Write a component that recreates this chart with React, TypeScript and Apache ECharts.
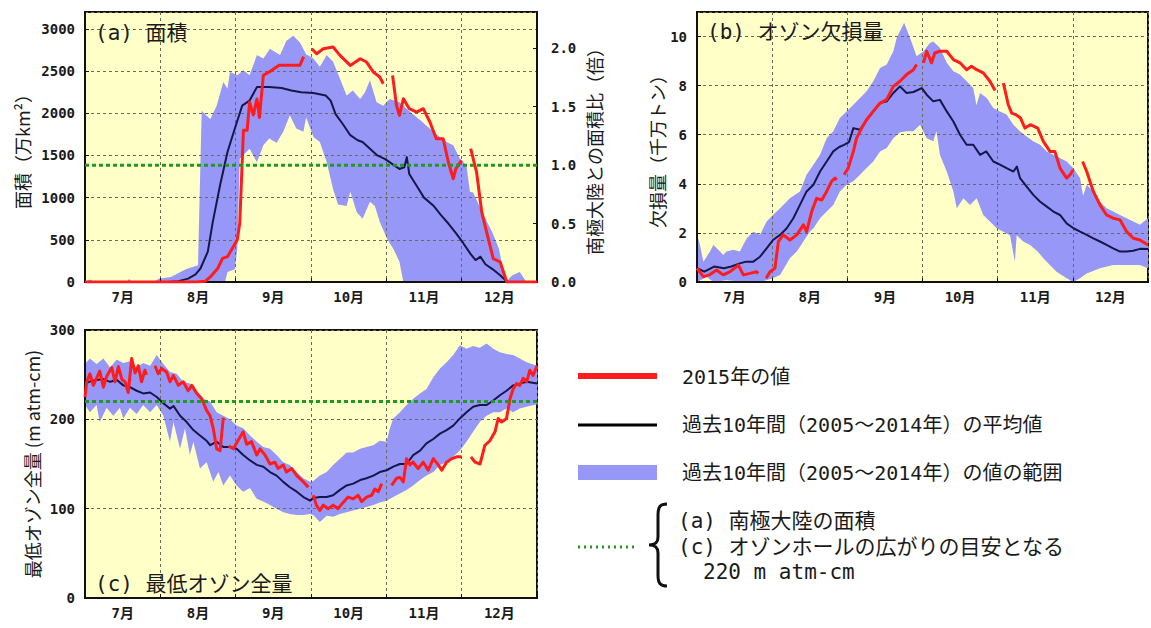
import React, { useEffect, useRef } from 'react';
import * as echarts from 'echarts';

// ---------- categories / ticks ----------
const MONTHS = ['7月', '8月', '9月', '10月', '11月', '12月'];
const DAY_MAX = 184; // Jul 1 .. Dec 31
const AREA_MAX = 3200;
const ANTARCTIC_AREA = 1385; // 万km², ratio 1.0
const AREA_TICKS = 500;
const RATIO_TICKS = 0.5;
const DEPL_MAX = 11;
const DEPL_TICKS = 2;
const OZ_MAX = 300;
const OZ_TICKS = 100;
const OZ_THRESHOLD = 220;

// ---------- (a) area ----------
const A_MEAN_DAYS = [0, 30, 34, 38, 42, 45, 47, 50, 52, 55, 58, 61, 64, 67, 70, 75, 80, 84, 88, 93, 98, 100, 102, 105, 108, 111, 113, 116, 119, 122, 124, 126, 128, 130, 131, 132, 135, 138, 142, 145, 148, 151, 154, 157, 159, 161, 163, 166, 169, 172, 184];
const A_MEAN = [0, 0, 0, 10, 40, 90, 160, 360, 710, 1150, 1540, 1820, 2090, 2150, 2310, 2310, 2300, 2270, 2250, 2240, 2210, 2150, 1990, 1870, 1740, 1680, 1660, 1580, 1500, 1460, 1420, 1380, 1340, 1360, 1480, 1280, 1140, 1000, 900, 790, 690, 580, 460, 330, 260, 300, 210, 150, 80, 0, 0];
const A_RED_DAYS = [0, 45, 49, 51, 54, 56, 58, 60, 62, 63, 64.5, 66, 67, 68.5, 70, 71, 72.6, 75, 79, 84, 87.5, 89, 90.5, 92.3, 94.3, 97, 101, 103.8, 108, 112, 114.6, 117.4, 120, 121.4, 123, 125.2, 126.8, 128, 129.6, 132, 135, 137.7, 140.4, 143, 145.8, 147.9, 149.9, 151, 153.3, 155, 157, 159.4, 161.5, 163.5, 166.2, 169, 171.7, 184];
const A_RED = [0, 0, 10, 60, 160, 280, 300, 400, 500, 700, 1800, 1800, 2130, 1980, 2170, 1950, 2450, 2490, 2570, 2570, 2570, 2670, null, 2765, 2706, 2765, 2785, 2686, 2567, 2646, 2607, 2488, 2429, 2350, null, 2449, 2093, 1975, 2172, 2054, 2014, 2054, 1896, 1698, 1698, 1422, 1224, 1343, 1442, null, 1580, 1303, 830, 592, 276, 237, 0, 0];
const A_UP_DAYS = [0, 2, 4, 17, 18, 19, 28, 30, 35, 41, 46, 47.5, 51, 53.6, 56.3, 58, 59, 62, 64.4, 67, 70, 72.6, 75.3, 79.4, 82, 84.8, 87.5, 90, 93, 95.6, 98.4, 101, 103.8, 106.5, 109, 112, 114, 116, 118.7, 121.4, 124, 128, 131, 136.4, 141.8, 144.5, 147.2, 149.9, 152.6, 155.3, 156.7, 158, 160.4, 163, 165.8, 168.5, 171.2, 174, 177, 179.7, 184];
const A_UP = [0, 30, 0, 0, 40, 0, 0, 40, 60, 150, 200, 2030, 1930, 2090, 2370, 2290, 2490, 2450, 2510, 2450, 2690, 2650, 2765, 2690, 2860, 2920, 2840, 2700, 2650, 2550, 2690, 2610, 2410, 2210, 2270, 2170, 2250, 2390, 2130, 2090, 2170, 2130, 2050, 1920, 1780, 1720, 1660, 1620, 1460, 1380, 1070, 1060, 910, 750, 590, 395, 0, 80, 120, 0, 0];
const A_LO_DAYS = [0, 57, 58, 61, 62, 63, 67, 70, 72.6, 75, 78, 80.7, 83.4, 86, 88.9, 90, 92, 93, 95.6, 98.4, 101, 103, 106.5, 108, 110.6, 113, 116, 118, 120, 123, 125.5, 128, 129.6, 184];
const A_LO = [0, 0, 120, 150, 400, 1460, 1580, 1420, 1620, 1700, 1650, 1780, 1975, 1820, 1780, 1950, 1800, 1720, 1660, 1420, 1100, 920, 900, 1070, 830, 750, 950, 900, 710, 510, 395, 240, 0, 0];

// ---------- (b) ozone mass deficit ----------
const B_MEAN_DAYS = [0, 3, 7, 11, 14, 17.5, 20, 23, 25.7, 28.4, 31, 33.9, 36.6, 39.3, 42, 44.7, 47.5, 50.2, 52.9, 55.6, 58, 60, 62, 63.8, 66.5, 69.2, 71.9, 74.7, 77.4, 80.1, 82.8, 85.5, 88.3, 91.7, 93.7, 96.4, 99.1, 101.9, 104.6, 107.3, 110, 112.7, 115.5, 118, 120.9, 123.6, 126.3, 129.1, 130.5, 131.8, 134.5, 137.2, 139.9, 142.7, 145.4, 148.1, 150.8, 153.6, 156.3, 159, 161.7, 164.4, 167.1, 169.8, 172.6, 175.3, 178, 180.7, 184];
const B_MEAN = [0.56, 0.42, 0.63, 0.56, 0.63, 0.76, 0.83, 0.83, 1.03, 1.37, 1.71, 1.92, 2.19, 2.6, 3.14, 3.69, 3.96, 4.5, 4.91, 5.32, 5.5, 5.59, 5.7, 6.27, 6.2, 6.61, 6.95, 7.29, 7.36, 7.7, 7.97, 7.7, 7.74, 7.9, 7.63, 7.36, 7.42, 6.95, 6.54, 6.0, 5.59, 5.59, 5.18, 5.32, 4.91, 4.78, 4.64, 4.5, 4.7, 4.23, 3.89, 3.55, 3.28, 3.07, 2.87, 2.73, 2.39, 2.19, 2.05, 1.92, 1.78, 1.65, 1.51, 1.37, 1.24, 1.24, 1.27, 1.35, 1.34];
const B_RED_DAYS = [0, 2.6, 5, 8, 10.7, 13.5, 16.9, 18.9, 21.6, 24.3, 25, 26.5, 28.2, 29.8, 31.8, 33.2, 35.2, 37.9, 40.7, 43.4, 44.7, 46.8, 48.8, 50.9, 52.9, 54.9, 56.3, 57, 58.5, 60, 61.7, 63.8, 65.1, 67.2, 69.2, 71.9, 74.7, 77.4, 80.1, 82.8, 85.5, 88.3, 89.6, 91, 92.4, 93.7, 95.7, 97, 99.1, 101.9, 104.6, 107.3, 110, 112, 114.1, 116.8, 119.5, 121.6, 123, 125, 127, 128.4, 130, 132, 133.8, 136, 139, 141.3, 144, 146, 148.1, 150.8, 152.2, 153.5, 155.5, 157.3, 159, 161.7, 164.4, 167.1, 169.8, 172.6, 175.3, 178, 180.7, 184];
const B_RED = [0.56, 0.22, 0.29, 0.49, 0.29, 0.42, 0.69, 0.29, 0.35, 0.42, 0.35, null, 0.15, 0.42, 0.56, 1.65, 1.92, 1.71, 1.92, 2.33, 2.05, 2.87, 3.41, 3.34, 3.69, 4.1, 4.23, 4.16, null, 4.37, 4.64, 5.32, 5.86, 6.27, 6.61, 6.95, 7.29, 7.43, 7.97, 8.18, 8.45, 8.65, 8.86, null, 8.93, 9.4, 8.93, 9.33, 9.4, 9.4, 9.06, 8.93, 8.65, 8.79, 8.65, 8.52, 8.18, 7.8, null, 8.1, 7.22, 6.88, 6.82, 6.68, 6.27, 6.41, 6.27, 5.73, 5.32, 5.32, 4.64, 4.23, 4.37, 4.57, null, 4.91, 4.5, 3.69, 3.14, 2.73, 2.6, 2.53, 2.05, 1.78, 1.71, 1.51];
const B_UP_DAYS = [0, 1.2, 2.6, 5.3, 6.7, 9.4, 10.7, 12, 14.8, 17.5, 20.3, 23, 25.7, 28.4, 31, 33.9, 37.9, 42, 44.7, 47.5, 50.2, 52.9, 55.6, 58.3, 61, 63.8, 66.5, 69.2, 71.9, 74.7, 77.4, 80.1, 81.5, 84.5, 86.9, 89.6, 92.4, 95, 96.4, 99.1, 101.9, 104.6, 107.3, 110, 112.7, 114, 115.5, 118.2, 120.9, 123.6, 126.3, 129.1, 131.8, 134.5, 137.2, 140, 142.7, 145.4, 148.1, 150.8, 153.5, 156.3, 157.5, 159, 161.7, 164.4, 167.1, 169.8, 172.6, 175.3, 178, 180.7, 184];
const B_UP = [1.92, 1.51, 0.83, 1.24, 1.51, 1.24, 1.1, 1.24, 1.31, 1.24, 1.78, 2.05, 1.92, 2.46, 2.73, 3.0, 3.41, 3.69, 4.37, 4.78, 5.18, 5.86, 6.14, 6.68, 6.95, 7.22, 7.5, 7.77, 8.18, 8.72, 8.86, 9.4, 9.95, 10.56, 9.95, 9.2, 9.4, 9.74, 9.8, 9.54, 8.93, 8.59, 8.45, 8.18, 7.9, 7.2, 7.7, 7.5, 7.09, 6.95, 6.82, 6.41, 6.14, 5.93, 5.73, 5.59, 5.32, 5.18, 5.05, 4.91, 4.64, 4.23, 3.5, 3.96, 3.69, 3.28, 3.0, 2.87, 2.73, 2.6, 2.46, 2.33, 2.6];
const B_LO_DAYS = [0, 4, 6.7, 12, 20, 25.7, 31, 33.9, 37.9, 40.7, 43.4, 46, 47.5, 50.2, 52.9, 55.6, 58.3, 61, 63.8, 66.5, 69.2, 71.9, 74.7, 77.4, 80.1, 82.8, 85.5, 88.3, 91, 93.7, 96.4, 97.7, 99.1, 101.9, 104.6, 106, 108.7, 111.4, 114.1, 116.8, 119.5, 122.3, 125, 127.7, 129.7, 130.4, 133.1, 136, 139, 141.3, 144, 146.7, 150.8, 153.5, 156.3, 159, 164.4, 169.8, 175.3, 180.7, 184];
const B_LO = [0, 0.2, 0, 0.07, 0, 0, 0.15, 0.29, 0.97, 1.24, 1.65, 2.05, 2.19, 2.6, 2.87, 3.14, 3.69, 3.96, 4.1, 4.37, 4.64, 4.91, 5.32, 5.46, 5.86, 6.1, 6.14, 6.14, 6.41, 5.86, 5.73, 6.14, 5.18, 4.5, 3.69, 3.0, 3.41, 3.14, 3.41, 2.73, 2.46, 2.19, 2.05, 1.9, 0.83, 1.9, 1.65, 1.5, 1.24, 0.97, 0.69, 0.42, 0.15, 0, 0.15, 0.35, 0.56, 0.69, 0.69, 0.69, 0.56];

// ---------- (c) minimum total ozone ----------
const C_MEAN_DAYS = [0, 2.7, 4.7, 7.5, 10.2, 13, 15.6, 18.3, 21, 23.7, 26.5, 29.2, 31.9, 34.6, 36, 38.7, 41.4, 44.1, 46.8, 49.5, 51, 53.6, 56.3, 59, 61.7, 64.4, 67.2, 69.9, 72.6, 75.3, 78, 80.7, 83.4, 86.2, 88.9, 91.6, 93, 95.6, 98.4, 101, 103.8, 106.5, 109.2, 112, 114.6, 117.4, 120, 122.8, 125.5, 128.2, 130.9, 133.6, 136.4, 139, 141.8, 144.5, 147.2, 149.9, 152.6, 155.3, 158, 160.7, 163.5, 166.2, 168.9, 171.6, 174.3, 177, 179.8, 184];
const C_MEAN = [240, 243, 244, 245, 242, 244, 238, 236, 232, 229, 230, 225, 218, 212, 215, 204, 197, 188, 182, 176, 171, 175, 169, 169, 167, 160, 154, 149, 147, 141, 137, 130, 124, 119, 113, 109, 112, 113, 113, 115, 121, 126, 128, 132, 134, 137, 141, 143, 147, 150, 150, 160, 165, 173, 178, 184, 188, 193, 201, 208, 214, 216, 216, 221, 227, 232, 238, 240, 242, 240];
const C_RED_DAYS = [0, 0.7, 2, 3.4, 4.7, 6, 7.5, 8.8, 10.9, 12.2, 13.6, 15, 16.3, 17.6, 19, 20.4, 21.7, 23, 24.4, 25, 26.5, 28.5, 29.8, 31.2, 33.2, 34.6, 36, 38, 40, 42, 43.5, 45.5, 47.5, 49.5, 50.9, 52.2, 53.6, 55, 56.3, 57.5, 58.5, 60.4, 62, 64.4, 65.8, 67.8, 69.9, 71.3, 73.3, 75.3, 77.3, 78.6, 80.7, 82, 84.1, 86.2, 88.9, 90.9, 91.8, 92.9, 94.2, 95.6, 97, 99, 101, 103, 105.1, 107.1, 109.2, 111.2, 112.6, 114.6, 116.7, 118, 119.4, 120.8, 122.5, 124.8, 126.8, 128.2, 129.6, 130.9, 132.3, 133.6, 135.6, 137.7, 139.7, 141.8, 143.8, 145.2, 147.2, 149.3, 151.3, 153.3, 155, 157.1, 158.8, 160.8, 162.8, 164.8, 166.9, 168.2, 169.6, 171.6, 173, 174.3, 175.7, 177, 178.4, 179.8, 181.1, 182.4, 184];
const C_RED = [225, 242, 251, 238, 246, 254, 236, 248, 258, 242, 259, 245, 242, 230, 268, 252, 260, 242, 255, 250, null, 260, 251, 257, 253, 242, 249, 238, 242, 232, 238, 229, 223, 210, 204, 190, 167, 165, 202, null, 170, 167, 175, 186, 172, 175, 160, 167, 160, 150, 152, 145, 149, 141, 145, 137, 130, 124, null, 115, 104, 98, 104, 100, 104, 100, 107, 113, 111, 115, 108, 113, 115, 122, 119, 128, null, 126, 134, 135, 130, 156, 149, 152, 145, 152, 143, 156, 149, 143, 152, 156, 158, 158, null, 158, 152, 150, 171, 176, 186, 201, 197, 201, 223, 234, 240, 238, 246, 242, 255, 249, 260];
const C_UP_DAYS = [0, 2, 4.7, 7.5, 10.2, 12.9, 15.6, 18.3, 21, 23.7, 26.5, 29.2, 31.9, 34.6, 37.3, 40, 42.7, 45.5, 48.2, 50.9, 53.6, 56.3, 59, 61.7, 64.4, 67.2, 69.9, 72.6, 75.3, 78, 80.7, 83.4, 86.2, 88.9, 91.6, 92.9, 95.6, 98.4, 101, 103.8, 106.5, 109.2, 112, 114.6, 117.4, 120, 122.8, 124.1, 125.5, 128.2, 130.9, 133.6, 136.4, 139, 141.8, 144.5, 147.2, 149.9, 152.6, 155.3, 158, 160.7, 163.5, 166.2, 168.9, 171.6, 174.3, 177, 179.8, 184];
const C_UP = [262, 268, 262, 268, 258, 267, 263, 265, 258, 263, 260, 272, 262, 253, 251, 242, 240, 232, 223, 220, 208, 204, 200, 193, 190, 182, 175, 169, 167, 160, 152, 149, 141, 134, 130, 131, 137, 141, 149, 156, 163, 163, 167, 169, 171, 176, 175, 190, 201, 208, 216, 223, 229, 234, 247, 257, 264, 272, 283, 279, 282, 280, 285, 279, 275, 273, 272, 268, 264, 260];
const C_LO_DAYS = [0, 2, 4.7, 6, 8.8, 11.5, 14.2, 15.6, 18.3, 21, 23.7, 26.5, 29.2, 31.9, 34.6, 36, 38.7, 40.7, 42.7, 44.1, 46.8, 49.5, 52.2, 54.3, 56.3, 59, 61.7, 64.4, 67.2, 69.9, 72.6, 75.3, 78, 80.7, 83.4, 86.2, 88.9, 91.6, 92.9, 95.6, 98.4, 101, 103.8, 106.5, 109.2, 112, 114.6, 117.4, 120, 122.8, 125.5, 128.2, 130.9, 133.6, 136.4, 139, 141.8, 144.5, 147.2, 149.9, 152.6, 155.3, 158, 160.7, 163.5, 166.2, 168.9, 171.6, 174.3, 177, 179.8, 184];
const C_LO = [216, 208, 216, 197, 213, 204, 213, 201, 213, 206, 216, 208, 216, 204, 175, 197, 167, 190, 160, 175, 145, 152, 130, 141, 126, 137, 126, 119, 123, 111, 108, 104, 100, 96, 94, 93, 93, 94, 93, 85, 92, 91, 94, 96, 98, 100, 102, 104, 107, 109, 113, 117, 121, 126, 132, 137, 141, 149, 152, 158, 165, 175, 186, 197, 204, 208, 208, 212, 208, 212, 214, 217];

// ---------- texts ----------
const TITLE_A = '(a) 面積';
const TITLE_B = '(b) オゾン欠損量';
const TITLE_C = '(c) 最低オゾン全量';
const NAME_A_LEFT = '面積（万km²）';
const NAME_A_RIGHT = '南極大陸との面積比（倍）';
const NAME_B = '欠損量（千万トン）';
const NAME_C = '最低オゾン全量 (m atm-cm)';
const LEG_RED = '2015年の値';
const LEG_MEAN = '過去10年間（2005～2014年）の平均値';
const LEG_BAND = '過去10年間（2005～2014年）の値の範囲';
const LEG_GREEN_1 = '(a) 南極大陸の面積';
const LEG_GREEN_2 = '(c) オゾンホールの広がりの目安となる';
const LEG_GREEN_3 = '220 m atm-cm';

// ---------- styles ----------
const RED = '#ff1c1c';
const NAVY = '#16164a';
const BAND = '#9797f7';
const GREEN = '#1f9a1f';
const BG = '#ffffc8';
const INK = '#1a1a1a';
const MONO = "'DejaVu Sans Mono', 'Noto Sans CJK JP', monospace";
const CJK = "'Noto Sans CJK JP', sans-serif";

const BRACE_PATH = 'M19 1 C12 1 10 4 10 12 L10 34 C10 40 7 42 1 42 C7 42 10 44 10 50 L10 72 C10 80 12 83 19 83';
echarts.graphic.registerShape('brace', echarts.graphic.extendPath(BRACE_PATH, {}));

function pairs(days: number[], vals: (number | null)[]) {
  return days.map((d, i) => [d, vals[i] === null ? '-' : vals[i]]);
}

function band(xi: number, yi: number, upD: number[], upV: number[], loD: number[], loV: number[]) {
  return {
    type: 'custom',
    xAxisIndex: xi,
    yAxisIndex: yi,
    z: 1,
    silent: true,
    clip: true,
    data: [[upD[0], upV[0]]],
    encode: { x: 0, y: 1 },
    renderItem: (_p: any, api: any) => {
      const pts: number[][] = [];
      for (let i = 0; i < upD.length; i++) pts.push(api.coord([upD[i], upV[i]]));
      for (let i = loD.length - 1; i >= 0; i--) pts.push(api.coord([loD[i], loV[i]]));
      return { type: 'polygon', shape: { points: pts }, style: { fill: BAND } };
    },
  };
}

function line(xi: number, yi: number, days: number[], vals: (number | null)[], color: string, width: number, z = 3) {
  return {
    type: 'line',
    xAxisIndex: xi,
    yAxisIndex: yi,
    data: pairs(days, vals),
    showSymbol: false,
    symbol: 'none',
    connectNulls: false,
    silent: true,
    z,
    lineStyle: { color, width, join: 'round' },
  };
}

function thresholdLine(xi: number, yi: number, v: number) {
  return {
    type: 'line',
    xAxisIndex: xi,
    yAxisIndex: yi,
    data: [[0, v], [DAY_MAX, v]],
    showSymbol: false,
    symbol: 'none',
    silent: true,
    z: 4,
    lineStyle: { color: GREEN, width: 3, type: [4, 3] },
  };
}

const plain = (v: number) => String(v);
const labelStyle = { color: INK, fontSize: 14, fontFamily: MONO, fontWeight: 'bold' as const };
const frameLine = { show: true, lineStyle: { color: '#111', width: 2 } };
const dashed = { show: true, lineStyle: { color: '#6a6a55', width: 1, type: [3, 3] } };
const nameStyle = { color: INK, fontSize: 18, fontFamily: CJK };
const innerTick = { show: true, inside: true, length: 4, lineStyle: { color: '#111' } };

function valueX(gi: number) {
  return { type: 'value', gridIndex: gi, min: 0, max: DAY_MAX, show: false, position: 'top' };
}
function monthX(gi: number) {
  return {
    type: 'category',
    gridIndex: gi,
    data: MONTHS,
    boundaryGap: true,
    position: 'bottom',
    z: 2,
    axisLine: frameLine,
    axisTick: { ...innerTick, interval: 0 },
    axisLabel: { ...labelStyle, margin: 8, interval: 0 },
    splitLine: { ...dashed, interval: 0 },
  };
}

function buildOption() {
  return {
    animation: false,
    backgroundColor: '#ffffff',
    grid: [
      { left: 85, top: 12, width: 452, height: 270, show: true, backgroundColor: BG, borderColor: '#111', borderWidth: 2 },
      { left: 697, top: 12, width: 451, height: 270, show: true, backgroundColor: BG, borderColor: '#111', borderWidth: 2 },
      { left: 85, top: 330, width: 452, height: 268, show: true, backgroundColor: BG, borderColor: '#111', borderWidth: 2 },
    ],
    xAxis: [valueX(0), monthX(0), valueX(1), monthX(1), valueX(2), monthX(2)],
    yAxis: [
      {
        type: 'value', gridIndex: 0, min: 0, max: AREA_MAX, interval: AREA_TICKS, position: 'left', z: 2,
        name: NAME_A_LEFT, nameLocation: 'middle', nameRotate: 90, nameGap: 54, nameTextStyle: nameStyle,
        axisLine: frameLine, axisTick: innerTick,
        axisLabel: { ...labelStyle, margin: 10, showMaxLabel: false, formatter: plain }, splitLine: dashed,
      },
      {
        type: 'value', gridIndex: 0, min: 0, max: AREA_MAX / ANTARCTIC_AREA, interval: RATIO_TICKS, position: 'right', z: 2,
        name: NAME_A_RIGHT, nameLocation: 'middle', nameRotate: 90, nameGap: 48, nameTextStyle: nameStyle,
        axisLine: frameLine, axisTick: innerTick,
        axisLabel: { ...labelStyle, margin: 14, showMaxLabel: false, formatter: (v: number) => v.toFixed(1) },
        splitLine: { show: false },
      },
      {
        type: 'value', gridIndex: 1, min: 0, max: DEPL_MAX, interval: DEPL_TICKS, position: 'left', z: 2,
        name: NAME_B, nameLocation: 'middle', nameRotate: 90, nameGap: 26, nameTextStyle: nameStyle,
        axisLine: frameLine, axisTick: innerTick,
        axisLabel: { ...labelStyle, margin: 10, showMaxLabel: false, formatter: plain }, splitLine: dashed,
      },
      {
        type: 'value', gridIndex: 2, min: 0, max: OZ_MAX, interval: OZ_TICKS, position: 'left', z: 2,
        name: NAME_C, nameLocation: 'middle', nameRotate: 90, nameGap: 44, nameTextStyle: nameStyle,
        axisLine: frameLine, axisTick: innerTick,
        axisLabel: { ...labelStyle, margin: 10, formatter: plain }, splitLine: dashed,
      },
    ],
    series: [
      band(0, 0, A_UP_DAYS, A_UP, A_LO_DAYS, A_LO),
      thresholdLine(0, 0, ANTARCTIC_AREA),
      line(0, 0, A_MEAN_DAYS, A_MEAN, NAVY, 2),
      line(0, 0, A_RED_DAYS, A_RED, RED, 3),

      band(2, 2, B_UP_DAYS, B_UP, B_LO_DAYS, B_LO),
      line(2, 2, B_MEAN_DAYS, B_MEAN, NAVY, 2),
      line(2, 2, B_RED_DAYS, B_RED, RED, 3),

      band(4, 3, C_UP_DAYS, C_UP, C_LO_DAYS, C_LO),
      thresholdLine(4, 3, OZ_THRESHOLD),
      line(4, 3, C_MEAN_DAYS, C_MEAN, NAVY, 2),
      line(4, 3, C_RED_DAYS, C_RED, RED, 3),
    ],
    graphic: [
      { type: 'text', z: 100, x: 95, y: 33, style: { text: TITLE_A, fontSize: 21, fontFamily: MONO, fill: INK, verticalAlign: 'middle' } },
      { type: 'text', z: 100, x: 707, y: 32, style: { text: TITLE_B, fontSize: 21, fontFamily: MONO, fill: INK, verticalAlign: 'middle' } },
      { type: 'text', z: 100, x: 95, y: 584, style: { text: TITLE_C, fontSize: 21, fontFamily: MONO, fill: INK, verticalAlign: 'middle' } },

      { type: 'line', z: 100, shape: { x1: 578, y1: 376, x2: 657, y2: 376 }, style: { stroke: RED, lineWidth: 6 } },
      { type: 'text', z: 100, x: 682, y: 377, style: { text: LEG_RED, fontSize: 20, fontFamily: MONO, fill: INK, verticalAlign: 'middle' } },
      { type: 'line', z: 100, shape: { x1: 578, y1: 425, x2: 657, y2: 425 }, style: { stroke: '#000', lineWidth: 3 } },
      { type: 'text', z: 100, x: 682, y: 425, style: { text: LEG_MEAN, fontSize: 20, fontFamily: MONO, fill: INK, verticalAlign: 'middle' } },
      { type: 'rect', z: 100, shape: { x: 578, y: 465, width: 79, height: 15 }, style: { fill: BAND } },
      { type: 'text', z: 100, x: 682, y: 473, style: { text: LEG_BAND, fontSize: 20, fontFamily: MONO, fill: INK, verticalAlign: 'middle' } },
      { type: 'line', z: 100, shape: { x1: 578, y1: 547, x2: 638, y2: 547 }, style: { stroke: GREEN, lineWidth: 3, lineDash: [2, 4] } },
      { type: 'brace', z: 100, x: 648, y: 503, scaleX: 1, scaleY: 1, style: { stroke: '#111', lineWidth: 3, fill: 'none' } },
      { type: 'text', z: 100, x: 678, y: 521, style: { text: LEG_GREEN_1, fontSize: 21, fontFamily: MONO, fill: INK, verticalAlign: 'middle' } },
      { type: 'text', z: 100, x: 678, y: 547, style: { text: LEG_GREEN_2, fontSize: 21, fontFamily: MONO, fill: INK, verticalAlign: 'middle' } },
      { type: 'text', z: 100, x: 703, y: 572, style: { text: LEG_GREEN_3, fontSize: 21, fontFamily: MONO, fill: INK, verticalAlign: 'middle' } },
    ],
  };
}

export default function App() {
  const ref = useRef<HTMLDivElement>(null);
  useEffect(() => {
    if (!ref.current) return;
    const chart = echarts.init(ref.current, undefined, { renderer: 'svg' });
    chart.setOption(buildOption() as any);
    return () => chart.dispose();
  }, []);
  return <div ref={ref} style={{ position: 'fixed', left: 0, top: 0, width: 1151, height: 628, background: '#fff' }} />;
}
